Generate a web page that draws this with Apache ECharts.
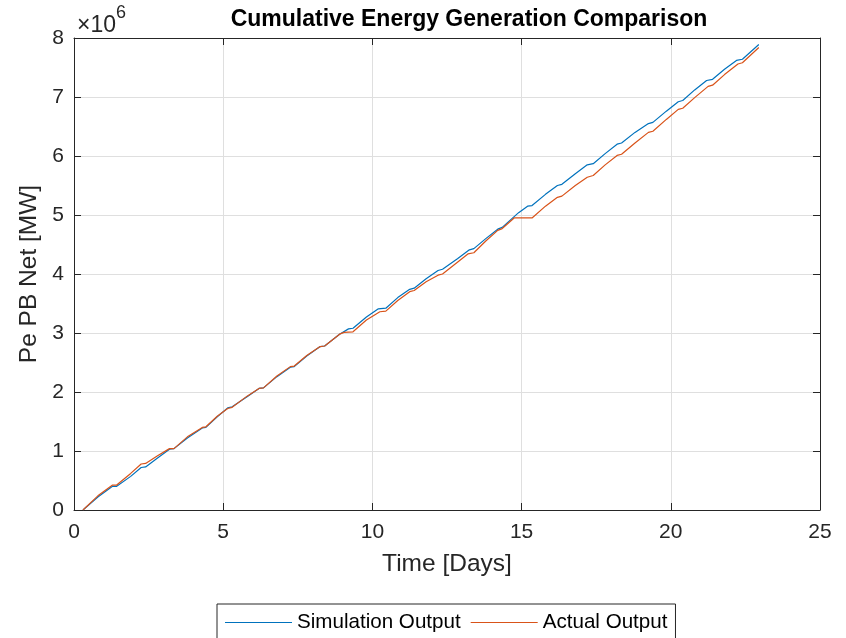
<!DOCTYPE html>
<html>
<head>
<meta charset="utf-8">
<script src="https://cdn.jsdelivr.net/npm/echarts@6/dist/echarts.min.js"></script>
<style>
html,body{margin:0;padding:0;background:#fff;}
#chart{width:846px;height:638px;}
</style>
</head>
<body>
<div id="chart"></div>
<script>
// Values in units of 10^6 MW
const simDays = [0.3,0.8,1.28,1.42,1.9,2.25,2.4,2.8,3.2,3.35,3.8,4.3,4.42,4.8,5.15,5.3,5.8,6.2,6.35,6.8,7.25,7.38,7.8,8.25,8.4,8.9,9.2,9.35,9.8,10.2,10.45,10.85,11.25,11.4,11.8,12.2,12.35,12.85,13.25,13.4,13.8,14.2,14.35,14.9,15.2,15.35,15.8,16.2,16.35,16.8,17.2,17.4,17.8,18.2,18.35,18.8,19.25,19.4,19.85,20.25,20.4,20.8,21.2,21.4,21.8,22.2,22.4,22.95];
const simValues = [0,0.22,0.40,0.40,0.57,0.72,0.73,0.88,1.03,1.04,1.22,1.39,1.40,1.58,1.73,1.75,1.92,2.06,2.07,2.26,2.42,2.43,2.61,2.77,2.78,2.98,3.07,3.08,3.27,3.41,3.42,3.60,3.74,3.76,3.92,4.06,4.08,4.26,4.41,4.43,4.60,4.76,4.79,5.04,5.15,5.16,5.35,5.50,5.52,5.70,5.85,5.87,6.04,6.20,6.22,6.40,6.55,6.57,6.76,6.92,6.94,7.12,7.28,7.30,7.47,7.62,7.64,7.89];
const actDays = [0.3,0.8,1.28,1.42,1.9,2.25,2.4,2.8,3.2,3.35,3.8,4.3,4.42,4.8,5.15,5.3,5.8,6.2,6.35,6.8,7.25,7.38,7.8,8.25,8.4,8.9,9.05,9.35,9.8,10.25,10.45,10.85,11.25,11.4,11.8,12.2,12.35,12.85,13.2,13.4,13.8,14.2,14.35,14.75,15.35,15.8,16.2,16.35,16.8,17.2,17.4,17.8,18.2,18.35,18.8,19.25,19.4,19.85,20.25,20.4,20.8,21.25,21.4,21.8,22.25,22.4,22.95];
const actValues = [0,0.24,0.42,0.42,0.62,0.78,0.79,0.92,1.04,1.04,1.24,1.40,1.41,1.59,1.72,1.74,1.93,2.06,2.07,2.27,2.43,2.44,2.62,2.77,2.78,2.98,3.01,3.02,3.22,3.36,3.37,3.55,3.70,3.72,3.87,3.98,4.00,4.20,4.34,4.36,4.56,4.74,4.77,4.95,4.95,5.15,5.30,5.32,5.50,5.64,5.67,5.85,6.01,6.03,6.22,6.40,6.42,6.62,6.79,6.81,6.99,7.18,7.20,7.38,7.56,7.58,7.84];
const xTicks = [0,5,10,15,20,25];
const yTicks = [0,1,2,3,4,5,6,7,8];
const seriesNames = ['Simulation Output','Actual Output'];

const FONT = '"Liberation Sans", Arial, Helvetica, sans-serif';
const AX = '#262626';
const GRID = '#dfdfdf';

const chart = echarts.init(document.getElementById('chart'), null, {renderer:'canvas'});
const pair = (xs, ys) => xs.map((x, i) => [x, ys[i]]);

const tickCommon = {show:true, inside:true, length:7, lineStyle:{color:AX, width:1}};
chart.setOption({
  animation:false,
  backgroundColor:'#fff',
  textStyle:{fontFamily:FONT},
  title:{
    text:'Cumulative Energy Generation Comparison',
    left:464, top:3, textAlign:'center',
    textStyle:{fontFamily:FONT, fontSize:23, fontWeight:'bold', color:'#000'}
  },
  grid:{left:74, right:26, top:38, bottom:128, containLabel:false},
  legend:{
    data:seriesNames,
    left:217, top:604, orient:'horizontal',
    icon:'rect', itemWidth:67, itemHeight:1.2, itemGap:10,
    borderColor:AX, borderWidth:1, padding:[8, 8, 14, 8],
    backgroundColor:'#fff',
    textStyle:{fontFamily:FONT, fontSize:20.6, color:'#000'}
  },
  xAxis:[{
    type:'value', min:xTicks[0], max:xTicks[xTicks.length-1], interval:5, position:'bottom',
    name:'Time [Days]', nameLocation:'middle', nameGap:42,
    nameTextStyle:{fontFamily:FONT, fontSize:24.5, color:AX},
    axisLine:{show:true, onZero:false, lineStyle:{color:AX, width:1}},
    axisTick:tickCommon,
    axisLabel:{fontFamily:FONT, fontSize:21, color:AX, margin:12},
    splitLine:{show:true, lineStyle:{color:GRID, width:1}}
  },{
    type:'value', min:xTicks[0], max:xTicks[xTicks.length-1], interval:5, position:'top',
    axisLine:{show:true, onZero:false, lineStyle:{color:AX, width:1}},
    axisTick:tickCommon, axisLabel:{show:false}, splitLine:{show:false}
  }],
  yAxis:[{
    type:'value', min:yTicks[0], max:yTicks[yTicks.length-1], interval:1, position:'left',
    name:'Pe PB Net [MW]', nameLocation:'middle', nameGap:30, nameRotate:90,
    nameTextStyle:{fontFamily:FONT, fontSize:24.5, color:AX},
    axisLine:{show:true, onZero:false, lineStyle:{color:AX, width:1}},
    axisTick:tickCommon,
    axisLabel:{fontFamily:FONT, fontSize:21, color:AX, margin:10},
    splitLine:{show:true, lineStyle:{color:GRID, width:1}}
  },{
    type:'value', min:yTicks[0], max:yTicks[yTicks.length-1], interval:1, position:'right',
    axisLine:{show:true, onZero:false, lineStyle:{color:AX, width:1}},
    axisTick:tickCommon, axisLabel:{show:false}, splitLine:{show:false}
  }],
  graphic:[{
    type:'text', left:77, top:4,
    style:{
      text:'{a|×10}{b|6}',
      rich:{
        a:{fontFamily:FONT, fontSize:23, fill:AX, color:AX, padding:[10,0,0,0]},
        b:{fontFamily:FONT, fontSize:18, fill:AX, color:AX, verticalAlign:'top', padding:[0,0,0,0]}
      }
    }
  }],
  series:[{
    name:seriesNames[0], type:'line', xAxisIndex:0, yAxisIndex:0,
    data:pair(simDays, simValues), showSymbol:false, symbol:'none',
    color:'#0072BD', lineStyle:{color:'#0072BD', width:1.2}, z:3
  },{
    name:seriesNames[1], type:'line', xAxisIndex:0, yAxisIndex:0,
    data:pair(actDays, actValues), showSymbol:false, symbol:'none',
    color:'#D95319', lineStyle:{color:'#D95319', width:1.2}, z:4
  }]
});
</script>
</body>
</html>
